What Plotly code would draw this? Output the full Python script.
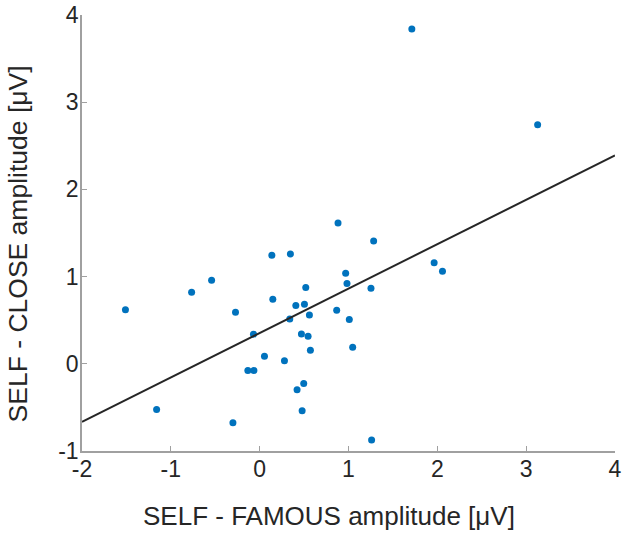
import plotly.graph_objects as go

famous = [-1.511, -0.766, -0.541, -0.272, -0.07, -1.16, -0.301, -0.133, -0.065, 0.054,
          0.137, 0.346, 0.148, 0.279, 0.339, 0.407, 0.504, 0.519, 0.56, 0.47,
          0.545, 0.571, 0.421, 0.496, 0.478, 0.882, 0.968, 0.983, 0.867, 1.009,
          1.047, 1.283, 1.253, 1.964, 2.058, 1.26, 1.713, 3.129]
close = [0.619, 0.82, 0.958, 0.591, 0.34, -0.523, -0.676, -0.077, -0.077, 0.087,
         1.244, 1.26, 0.74, 0.034, 0.515, 0.668, 0.683, 0.874, 0.561, 0.343,
         0.316, 0.156, -0.298, -0.226, -0.539, 1.615, 1.038, 0.92, 0.614, 0.507,
         0.19, 1.409, 0.866, 1.16, 1.061, -0.875, 3.84, 2.741]

fit_x = [-2, 4]
fit_y = [-0.665, 2.39]

x_ticks = [-2, -1, 0, 1, 2, 3, 4]
x_ticklabels = ["-2", "-1", "0", "1", "2", "3", "4"]
y_ticks = [-1, 0, 1, 2, 3, 4]
y_ticklabels = ["-1", "0", "1", "2", "3", "4"]

x_title = "SELF - FAMOUS amplitude [μV]"
y_title = "SELF - CLOSE amplitude [μV]"

fig = go.Figure()
fig.add_trace(go.Scatter(x=famous, y=close, mode="markers",
                         marker=dict(color="#0072BD", size=7, line=dict(width=0)),
                         showlegend=False, cliponaxis=False))
fig.add_trace(go.Scatter(x=fit_x, y=fit_y, mode="lines",
                         line=dict(color="#262626", width=2), showlegend=False))

font = "Liberation Sans, Arial, sans-serif"
axis_common = dict(showgrid=False, zeroline=False, showline=True, linecolor="#a0a0a0",
                   linewidth=1.5, ticks="inside", ticklen=5, tickcolor="#a0a0a0",
                   automargin=False, ticklabelstandoff=-3,
                   tickfont=dict(family=font, size=23, color="#262626"))

fig.update_layout(
    width=625, height=537,
    margin=dict(l=82, r=10, t=15, b=86),
    paper_bgcolor="white", plot_bgcolor="white",
    xaxis=dict(range=[-2, 4], tickvals=x_ticks, ticktext=x_ticklabels, **axis_common),
    yaxis=dict(range=[-1, 4], tickvals=y_ticks, ticktext=y_ticklabels, **axis_common),
    annotations=[
        dict(text=x_title, xref="paper", yref="paper", x=0.463, y=-0.15,
             xanchor="center", yanchor="middle", showarrow=False,
             font=dict(family=font, size=26, color="#262626")),
        dict(text=y_title, xref="paper", yref="paper", x=-0.121, y=0.475,
             xanchor="center", yanchor="middle", showarrow=False, textangle=-90,
             font=dict(family=font, size=26.5, color="#262626")),
    ],
)
fig.write_html("out.html", config={"displayModeBar": False},
               post_script="document.body.style.margin='0';document.body.style.overflow='hidden';")
